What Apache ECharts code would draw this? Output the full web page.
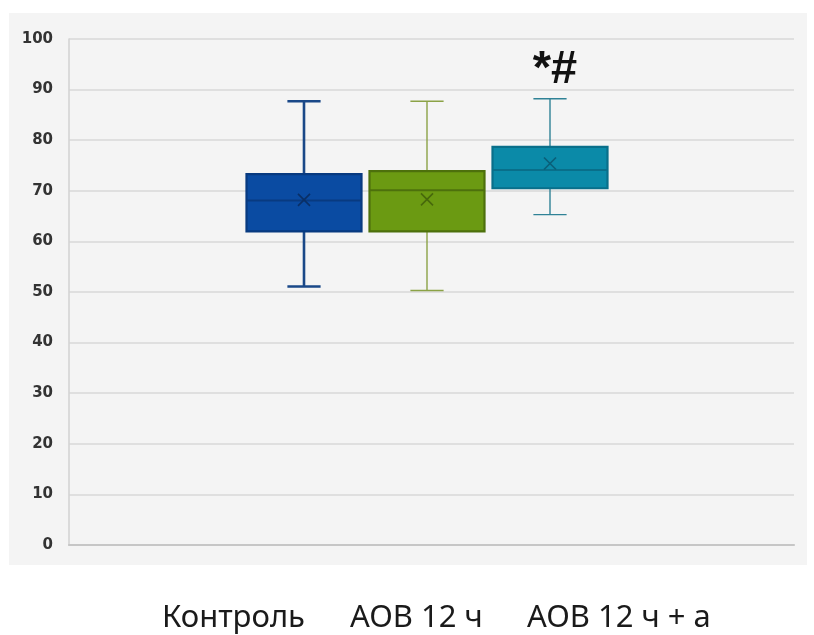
<!DOCTYPE html>
<html>
<head>
<meta charset="utf-8">
<script src="https://cdn.jsdelivr.net/npm/echarts@6/dist/echarts.min.js"></script>
<style>
  html, body { margin: 0; padding: 0; background: #ffffff; }
  #chart { width: 814px; height: 635px; }
</style>
</head>
<body>
<div id="chart"></div>
<script>
// Groups and their five-number summaries (plus mean)
const categories   = ['Контроль', 'АОВ 12 ч', 'АОВ 12 ч + а'];
const minValues    = [51.1, 50.3, 65.3];
const q1Values     = [62.0, 62.0, 70.5];
const medianValues = [68.1, 70.1, 74.1];
const q3Values     = [73.3, 73.9, 78.7];
const maxValues    = [87.7, 87.7, 88.2];
const meanValues   = [68.2, 68.3, 75.4];
const markers      = ['', '', '*#'];
const yTicks       = [0, 10, 20, 30, 40, 50, 60, 70, 80, 90, 100];

// Per-group styling
const fillColors    = ['#0a4ba2', '#6b9a12', '#0b8aa8'];
const borderColors  = ['#083a80', '#4d700c', '#096f8a'];
const whiskerColors = ['#1a4888', '#8ba246', '#2f8296'];
const whiskerWidths = [2.6, 1.4, 1.4];
const meanColors    = ['#0a2f66', '#47680c', '#0a5f78'];

const chart = echarts.init(document.getElementById('chart'));

const boxData = categories.map((c, i) => [
  i, minValues[i], q1Values[i], medianValues[i], q3Values[i], maxValues[i], meanValues[i]
]);

function renderBox(params, api) {
  const i = params.dataIndex;
  const x = api.value(0);
  const pMin = api.coord([x, api.value(1)]);
  const pQ1 = api.coord([x, api.value(2)]);
  const pMed = api.coord([x, api.value(3)]);
  const pQ3 = api.coord([x, api.value(4)]);
  const pMax = api.coord([x, api.value(5)]);
  const pMean = api.coord([x, api.value(6)]);
  const band = api.size([1, 0])[0];
  const boxW = band * 0.935;
  const capW = band * 0.27;
  const cx = pMed[0];
  const wStyle = { stroke: whiskerColors[i], lineWidth: whiskerWidths[i], fill: null };
  const m = 6;
  const children = [
    { type: 'line', shape: { x1: cx, y1: pQ3[1], x2: cx, y2: pMax[1] }, style: wStyle },
    { type: 'line', shape: { x1: cx, y1: pQ1[1], x2: cx, y2: pMin[1] }, style: wStyle },
    { type: 'line', shape: { x1: cx - capW / 2, y1: pMax[1], x2: cx + capW / 2, y2: pMax[1] }, style: wStyle },
    { type: 'line', shape: { x1: cx - capW / 2, y1: pMin[1], x2: cx + capW / 2, y2: pMin[1] }, style: wStyle },
    { type: 'rect', shape: { x: cx - boxW / 2, y: pQ3[1], width: boxW, height: pQ1[1] - pQ3[1] },
      style: { fill: fillColors[i], stroke: borderColors[i], lineWidth: 2.2 } },
    { type: 'line', shape: { x1: cx - boxW / 2, y1: pMed[1], x2: cx + boxW / 2, y2: pMed[1] },
      style: { stroke: borderColors[i], lineWidth: 2 } },
    { type: 'line', shape: { x1: cx - m, y1: pMean[1] - m, x2: cx + m, y2: pMean[1] + m },
      style: { stroke: meanColors[i], lineWidth: 1.6 } },
    { type: 'line', shape: { x1: cx - m, y1: pMean[1] + m, x2: cx + m, y2: pMean[1] - m },
      style: { stroke: meanColors[i], lineWidth: 1.6 } }
  ];
  if (markers[i]) {
    children.push({
      type: 'text',
      style: {
        text: markers[i], x: cx + 5, y: pMax[1] - 5,
        align: 'center', verticalAlign: 'bottom',
        font: 'bold 47px "Liberation Sans", sans-serif', fill: '#111111'
      }
    });
  }
  return { type: 'group', children: children };
}

const labelFont = '31px "Noto Sans", sans-serif';
const labelLeft = [162, 350, 527];

chart.setOption({
  animation: false,
  backgroundColor: '#ffffff',
  graphic: [
    { type: 'rect', z: -10, shape: { x: 9, y: 13, width: 798, height: 552 },
      style: { fill: '#f4f4f4' } }
  ].concat(categories.map((c, i) => ({
    type: 'text', left: labelLeft[i], top: 603,
    style: { text: c, font: labelFont, fill: '#1a1a1a' }
  }))),
  grid: [
    { left: 69, right: 20, top: 39, bottom: 90 },
    { left: 242.5, right: 202.5, top: 39, bottom: 90 }
  ],
  xAxis: [
    { type: 'category', gridIndex: 0, data: [''],
      axisLine: { show: true, lineStyle: { color: '#c6c6c6', width: 2.2 } },
      axisTick: { show: false }, axisLabel: { show: false }, splitLine: { show: false } },
    { type: 'category', gridIndex: 1, data: categories,
      axisLine: { show: false }, axisTick: { show: false }, axisLabel: { show: false }, splitLine: { show: false } }
  ],
  yAxis: [
    { type: 'value', gridIndex: 0, min: 0, max: 100, interval: 10,
      axisLine: { show: true, lineStyle: { color: '#d4d4d4', width: 1.6 } },
      axisTick: { show: false },
      axisLabel: { margin: 16, color: '#333333', fontFamily: 'DejaVu Sans', fontWeight: 'bold', fontSize: 15,
        formatter: v => (yTicks.indexOf(v) >= 0 ? String(v) : '') },
      splitLine: { show: true, lineStyle: { color: '#d9d9d9', width: 1.6 } } },
    { type: 'value', gridIndex: 1, min: 0, max: 100, show: false, splitLine: { show: false } }
  ],
  series: [
    { type: 'custom', xAxisIndex: 1, yAxisIndex: 1, renderItem: renderBox,
      encode: { x: 0, y: [1, 2, 3, 4, 5, 6] }, data: boxData, z: 5 }
  ]
});
</script>
</body>
</html>
